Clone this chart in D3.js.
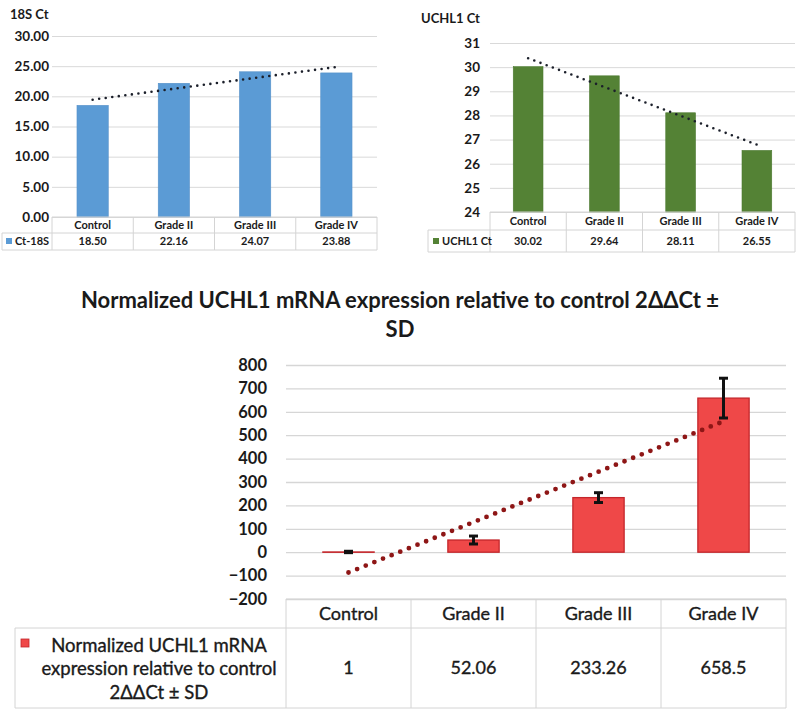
<!DOCTYPE html>
<html><head><meta charset="utf-8">
<script src="https://cdn.jsdelivr.net/npm/d3@7"></script>
<style>
body{margin:0;background:#fff}
svg{display:block}
text{font-family:Lato,'Open Sans','DejaVu Sans',sans-serif;fill:#1a1a1a}
</style>
</head><body>
<svg id="c" width="800" height="714"></svg>
<script>
// ---------- DATA ----------
const categories = ["Control", "Grade II", "Grade III", "Grade IV"];
const ct18S = [18.50, 22.16, 24.07, 23.88];
const ct18SLabels = ["18.50", "22.16", "24.07", "23.88"];
const ctUCHL1 = [30.02, 29.64, 28.11, 26.55];
const ctUCHL1Labels = ["30.02", "29.64", "28.11", "26.55"];
const normExpr = [1, 52.06, 233.26, 658.5];
const normExprLabels = ["1", "52.06", "233.26", "658.5"];
const normSD = [3, 17, 21, 85];
const ticks18S = [0, 5, 10, 15, 20, 25, 30];
const ticksUCHL1 = [24, 25, 26, 27, 28, 29, 30, 31];
const ticksNorm = [-200, -100, 0, 100, 200, 300, 400, 500, 600, 700, 800];
const title18S = "18S Ct";
const titleUCHL1 = "UCHL1 Ct";
const legend18S = "Ct-18S";
const legendUCHL1 = "UCHL1 Ct";
const mainTitle = ["Normalized UCHL1 mRNA expression relative to control 2\u0394\u0394Ct \u00b1", "SD"];
const normLegend = ["Normalized UCHL1 mRNA", "expression relative to control", "2\u0394\u0394Ct \u00b1 SD"];

// ---------- HELPERS ----------
const svg = d3.select("#c");

function linreg(vals) {
  const mx = d3.mean(vals, (_, i) => i), my = d3.mean(vals);
  let num = 0, den = 0;
  vals.forEach((v, i) => { num += (i - mx) * (v - my); den += (i - mx) * (i - mx); });
  const b = num / den, a = my - b * mx;
  return i => a + b * i;
}

function panel(cfg) {
  const g = svg.append("g");
  const x = d3.scaleBand().domain(categories).range(cfg.xRange).padding(0);
  const y = d3.scaleLinear().domain(cfg.yDomain).range(cfg.yRange);
  const w = cfg.xRange[1] - cfg.xRange[0];

  const grid = g.append("g").attr("transform", `translate(${cfg.xRange[0]},0)`)
    .call(d3.axisLeft(y).tickValues(cfg.ticks).tickSize(-w).tickFormat(""));
  grid.select(".domain").remove();
  grid.selectAll("line").attr("stroke", cfg.gridColor).attr("stroke-width", cfg.gridWidth);

  const ax = g.append("g").attr("transform", `translate(${cfg.xRange[0]},0)`)
    .call(d3.axisLeft(y).tickValues(cfg.ticks).tickSize(0).tickPadding(cfg.tickPad).tickFormat(cfg.tickFmt));
  ax.select(".domain").remove();
  ax.selectAll("text").attr("font-size", cfg.tickSize).attr("font-weight", "bold")
    .attr("font-family", "Lato,'Open Sans',sans-serif").attr("fill", "#1a1a1a");

  const bw = x.bandwidth() * cfg.barFrac;
  g.selectAll("rect.bar").data(cfg.values).join("rect").attr("class", "bar")
    .attr("x", (d, i) => x(categories[i]) + (x.bandwidth() - bw) / 2)
    .attr("width", bw)
    .attr("y", d => Math.min(y(d), y(cfg.base)))
    .attr("height", d => Math.max(0.3, Math.abs(y(cfg.base) - y(d))))
    .attr("fill", cfg.fill).attr("stroke", cfg.stroke).attr("stroke-width", cfg.barStroke);

  if (cfg.sd) {
    const cw = cfg.capW;
    cfg.values.forEach((v, i) => {
      const cx = x(categories[i]) + x.bandwidth() / 2;
      const e = g.append("g").attr("stroke", "#111").attr("stroke-width", cfg.errW);
      e.append("line").attr("x1", cx).attr("x2", cx).attr("y1", y(v + cfg.sd[i])).attr("y2", y(v - cfg.sd[i]));
      e.append("line").attr("x1", cx - cw / 2).attr("x2", cx + cw / 2).attr("y1", y(v + cfg.sd[i])).attr("y2", y(v + cfg.sd[i]));
      e.append("line").attr("x1", cx - cw / 2).attr("x2", cx + cw / 2).attr("y1", y(v - cfg.sd[i])).attr("y2", y(v - cfg.sd[i]));
    });
  }

  const f = linreg(cfg.values);
  const n = cfg.values.length;
  const cx0 = x(categories[0]) + x.bandwidth() / 2, cx1 = x(categories[n - 1]) + x.bandwidth() / 2;
  g.append("line")
    .attr("x1", cx0).attr("y1", y(f(0))).attr("x2", cx1).attr("y2", y(f(n - 1)))
    .attr("stroke", cfg.trendColor).attr("stroke-width", cfg.trendW)
    .attr("stroke-linecap", "round").attr("stroke-dasharray", cfg.trendDash);

  const r0 = cfg.rows[0], r1 = cfg.rows[1], r2 = cfg.rows[2];
  const tb = g.append("g").attr("stroke", cfg.tableColor).attr("stroke-width", 1).attr("fill", "none");
  const bounds = [cfg.xRange[0]].concat(categories.map(c => x(c) + x.bandwidth()));
  bounds.forEach(bx => tb.append("line").attr("x1", bx).attr("x2", bx).attr("y1", r0).attr("y2", r2));
  tb.append("line").attr("x1", cfg.legendX0).attr("x2", cfg.legendX0).attr("y1", r1).attr("y2", r2);
  tb.append("line").attr("x1", cfg.legendX0).attr("x2", cfg.xRange[1]).attr("y1", r1).attr("y2", r1);
  tb.append("line").attr("x1", cfg.legendX0).attr("x2", cfg.xRange[1]).attr("y1", r2).attr("y2", r2);
  tb.append("line").attr("x1", cfg.xRange[0]).attr("x2", cfg.xRange[1]).attr("y1", r0).attr("y2", r0);

  const tstroke = cfg.tableWeight === "normal" ? 0.35 : 0;
  g.selectAll("text.cat").data(categories).join("text").attr("class", "cat")
    .attr("x", d => x(d) + x.bandwidth() / 2).attr("y", (r0 + r1) / 2).attr("dy", "0.36em")
    .attr("text-anchor", "middle").attr("font-size", cfg.tableSize).attr("font-weight", cfg.tableWeight)
    .attr("stroke", "#1a1a1a").attr("stroke-width", tstroke)
    .text(d => d);
  g.selectAll("text.val").data(cfg.labels).join("text").attr("class", "val")
    .attr("x", (d, i) => x(categories[i]) + x.bandwidth() / 2).attr("y", (r1 + r2) / 2).attr("dy", "0.36em")
    .attr("text-anchor", "middle").attr("font-size", cfg.tableSize).attr("font-weight", cfg.tableWeight)
    .attr("stroke", "#1a1a1a").attr("stroke-width", tstroke)
    .text(d => d);

  return { g, x, y };
}

// ---------- PANEL A: 18S Ct ----------
const A = panel({
  xRange: [52, 377], yDomain: [0, 30], yRange: [217, 36], base: 0,
  ticks: ticks18S, tickFmt: d3.format(".2f"), tickPad: 3, tickSize: 13.5,
  gridColor: "#d9d9d9", gridWidth: 1,
  values: ct18S, labels: ct18SLabels, barFrac: 0.385,
  fill: "#5b9bd5", stroke: "#5590c8", barStroke: 0.6,
  trendColor: "#1b1f2a", trendW: 2.6, trendDash: "0 6.6",
  rows: [217, 233, 250], legendX0: 2, tableColor: "#d4d4d4",
  tableSize: 11, tableWeight: "bold"
});
A.g.append("text").attr("x", 10).attr("y", 14).attr("dy", "0.36em")
  .attr("font-size", 13).attr("font-weight", "bold").text(title18S);
A.g.append("rect").attr("x", 6).attr("y", 238).attr("width", 6).attr("height", 6).attr("fill", "#5b9bd5");
A.g.append("text").attr("x", 15).attr("y", 241.5).attr("dy", "0.36em")
  .attr("font-size", 11).attr("font-weight", "bold").text(legend18S);

// ---------- PANEL B: UCHL1 Ct ----------
const B = panel({
  xRange: [490, 795], yDomain: [24, 31], yRange: [212, 43], base: 24,
  ticks: ticksUCHL1, tickFmt: d3.format("d"), tickPad: 10, tickSize: 13.5,
  gridColor: "#d9d9d9", gridWidth: 1,
  values: ctUCHL1, labels: ctUCHL1Labels, barFrac: 0.39,
  fill: "#548235", stroke: "#4c7a30", barStroke: 0.6,
  trendColor: "#1b1f2a", trendW: 2.6, trendDash: "0 6.6",
  rows: [212, 230, 252], legendX0: 428, tableColor: "#d4d4d4",
  tableSize: 11, tableWeight: "bold"
});
B.g.append("text").attr("x", 421).attr("y", 18).attr("dy", "0.36em")
  .attr("font-size", 13).attr("font-weight", "bold").text(titleUCHL1);
B.g.append("rect").attr("x", 433).attr("y", 238).attr("width", 6).attr("height", 6).attr("fill", "#548235");
B.g.append("text").attr("x", 442).attr("y", 241).attr("dy", "0.36em")
  .attr("font-size", 11).attr("font-weight", "bold").text(legendUCHL1);

// ---------- PANEL C: normalized expression ----------
const C = panel({
  xRange: [286, 786], yDomain: [-200, 800], yRange: [599, 365], base: 0,
  ticks: ticksNorm, tickFmt: d3.format("d"), tickPad: 19, tickSize: 16.5,
  gridColor: "#d6d6d6", gridWidth: 1.3,
  values: normExpr, labels: normExprLabels, barFrac: 0.41, sd: normSD, capW: 9, errW: 3,
  fill: "#ef4848", stroke: "#c4262b", barStroke: 1.3,
  trendColor: "#8e1616", trendW: 4.8, trendDash: "0 9.3",
  rows: [599, 628, 708], legendX0: 15, tableColor: "#d4d4d4",
  tableSize: 18, tableWeight: "normal"
});
svg.append("g").selectAll("text").data(mainTitle).join("text")
  .attr("x", 400).attr("y", (d, i) => 300 + i * 29).attr("dy", "0.36em")
  .attr("text-anchor", "middle").attr("font-size", 22).attr("font-weight", "bold")
  .text(d => d);
C.g.append("rect").attr("x", 21).attr("y", 639).attr("width", 8).attr("height", 8)
  .attr("fill", "#ef4848").attr("stroke", "#c4262b").attr("stroke-width", 0.8);
C.g.selectAll("text.leg").data(normLegend).join("text").attr("class", "leg")
  .attr("x", 159).attr("y", (d, i) => 645 + i * 23.5).attr("dy", "0.36em")
  .attr("text-anchor", "middle").attr("font-size", 18.5)
  .attr("stroke", "#1a1a1a").attr("stroke-width", 0.35).text(d => d);
</script>
</body></html>
